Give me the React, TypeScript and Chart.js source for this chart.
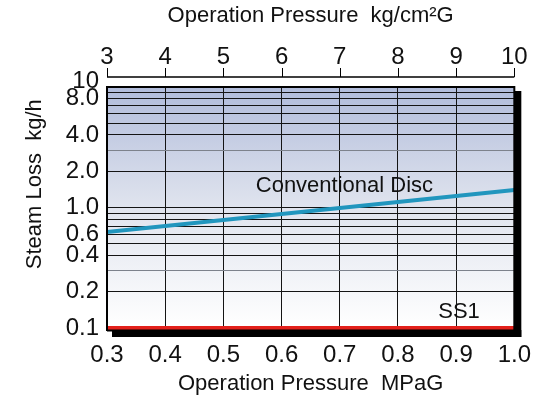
import React, { useEffect, useRef } from 'react';
import { Chart, registerables } from 'chart.js';

Chart.register(...registerables);

// ---- data ----
const pressureMPa = [0.3, 1.0];
const mpaTicks = [0.3, 0.4, 0.5, 0.6, 0.7, 0.8, 0.9, 1.0];
const conventionalDisc = [0.625, 1.4];
const ss1Loss = [0.1, 0.1];
const kgTicks = [3, 4, 5, 6, 7, 8, 9, 10];
const yGridValues = [0.1, 0.2, 0.3, 0.4, 0.5, 0.6, 0.7, 0.8, 0.9, 1, 2, 3, 4, 5, 6, 7, 8, 9, 10];
const yLabelValues = [0.1, 0.2, 0.4, 0.6, 1, 2, 4, 8, 10];
const yLabelTexts = ['0.1', '0.2', '0.4', '0.6', '1.0', '2.0', '4.0', '8.0', '10'];
const seriesNames = ['Conventional Disc', 'SS1'];
const seriesLabelX = [0.708, 0.905];
const seriesLabelY = [1.51, 0.136];

const FONT = "'Liberation Sans', Arial, sans-serif";

export default function App() {
  const ref = useRef<HTMLCanvasElement | null>(null);

  useEffect(() => {
    const canvas = ref.current;
    if (!canvas) return;

    const decor = {
      id: 'decor',
      beforeDraw(chart: any) {
        const { ctx, chartArea: a } = chart;
        const y = chart.scales.y;
        const top = y.getPixelForValue(10);
        const bottom = y.getPixelForValue(0.1);
        ctx.save();
        // shadow
        ctx.fillStyle = '#000';
        ctx.fillRect(a.right, top + 4, 7, bottom - top + 5);
        ctx.fillRect(a.left + 5, bottom + 2, a.right - a.left + 2, 7);
        // gradient background
        const g = ctx.createLinearGradient(0, top, 0, bottom);
        g.addColorStop(0, '#b1bcdb');
        g.addColorStop(0.5, '#e0e4ee');
        g.addColorStop(1, '#ffffff');
        ctx.fillStyle = g;
        ctx.fillRect(a.left, top, a.right - a.left, bottom - top);
        ctx.restore();
      },
      afterDraw(chart: any) {
        const { ctx, chartArea: a } = chart;
        const y = chart.scales.y;
        const x = chart.scales.x;
        const x2 = chart.scales.x2;
        const top = y.getPixelForValue(10);
        const bottom = y.getPixelForValue(0.1);
        ctx.save();
        ctx.strokeStyle = '#000';
        // frame
        ctx.lineWidth = 2;
        ctx.beginPath();
        ctx.moveTo(a.left, bottom + 3);
        ctx.lineTo(a.left, top);
        ctx.lineTo(a.right, top);
        ctx.lineTo(a.right, bottom + 3);
        ctx.stroke();
        ctx.beginPath();
        ctx.moveTo(a.left, bottom + 2.5);
        ctx.lineTo(a.right, bottom + 2.5);
        ctx.stroke();
        // top axis line and ticks
        const axY = top - 10;
        ctx.lineWidth = 1.5;
        ctx.beginPath();
        ctx.moveTo(x2.getPixelForValue(kgTicks[0]), axY);
        ctx.lineTo(x2.getPixelForValue(kgTicks[kgTicks.length - 1]), axY);
        ctx.stroke();
        ctx.lineWidth = 1;
        kgTicks.forEach((k) => {
          const px = Math.round(x2.getPixelForValue(k)) + 0.5;
          ctx.beginPath();
          ctx.moveTo(px, axY);
          ctx.lineTo(px, axY - 9);
          ctx.stroke();
        });
        // series labels
        ctx.fillStyle = '#111';
        ctx.font = `22px ${FONT}`;
        ctx.textAlign = 'center';
        ctx.textBaseline = 'middle';
        seriesNames.forEach((n, i) => {
          ctx.fillText(n, x.getPixelForValue(seriesLabelX[i]), y.getPixelForValue(seriesLabelY[i]));
        });
        ctx.restore();
      },
    };

    const chart = new Chart(canvas, {
      type: 'line',
      data: {
        datasets: [
          {
            label: seriesNames[0],
            data: pressureMPa.map((p, i) => ({ x: p, y: conventionalDisc[i] })),
            borderColor: '#2196be',
            borderWidth: 4,
            pointRadius: 0,
            xAxisID: 'x',
            yAxisID: 'y',
          },
          {
            label: seriesNames[1],
            data: pressureMPa.map((p, i) => ({ x: p, y: ss1Loss[i] })),
            borderColor: '#e3201b',
            borderWidth: 4,
            pointRadius: 0,
            clip: 6,
            xAxisID: 'x',
            yAxisID: 'y',
          },
        ],
      },
      plugins: [decor],
      options: {
        animation: false,
        responsive: false,
        layout: { padding: { left: 0, right: 24, top: 0, bottom: 0 } },
        plugins: { legend: { display: false }, tooltip: { enabled: false } },
        scales: {
          x: {
            type: 'linear',
            position: 'bottom',
            min: 0.3,
            max: 1.0,
            afterFit: (s: any) => { s.height = 69; },
            afterBuildTicks: (s: any) => { s.ticks = mpaTicks.map((v) => ({ value: v })); },
            grid: { color: '#141414', lineWidth: 1, drawTicks: false },
            border: { display: false },
            ticks: {
              autoSkip: false,
              maxRotation: 0,
              padding: 13,
              color: '#111',
              font: { family: FONT, size: 24 },
              callback: (v: any) => Number(v).toFixed(1),
            },
            title: {
              display: true,
              text: 'Operation Pressure  MPaG',
              color: '#111',
              font: { family: FONT, size: 22 },
              padding: { top: 0, bottom: 0 },
            },
          },
          x2: {
            type: 'linear',
            position: 'top',
            min: 3,
            max: 10,
            afterFit: (s: any) => { s.height = 87; },
            afterBuildTicks: (s: any) => { s.ticks = kgTicks.map((v) => ({ value: v })); },
            grid: { display: false, drawTicks: false },
            border: { display: false },
            ticks: {
              autoSkip: false,
              maxRotation: 0,
              padding: 15,
              color: '#111',
              font: { family: FONT, size: 24 },
            },
            title: {
              display: true,
              text: 'Operation Pressure  kg/cm²G',
              color: '#111',
              font: { family: FONT, size: 22 },
              padding: { top: 3, bottom: 0 },
            },
          },
          y: {
            type: 'logarithmic',
            min: 0.1,
            max: 10,
            afterFit: (s: any) => { s.width = 107; },
            afterBuildTicks: (s: any) => { s.ticks = yGridValues.map((v) => ({ value: v })); },
            grid: {
              drawTicks: false,
              lineWidth: 1,
              color: (c: any) => (c.tick && (c.tick.value === 0.3 || c.tick.value === 3) ? '#7d828c' : '#141414'),
            },
            border: { display: false },
            ticks: {
              autoSkip: false,
              padding: 8,
              color: '#111',
              font: (c: any) =>
                c.tick && c.tick.value === 10
                  ? { family: FONT, size: 24, lineHeight: 0.45 }
                  : { family: FONT, size: 24 },
              callback: (v: any) => {
                const i = yLabelValues.indexOf(Number(v));
                if (i < 0) return '';
                return Number(v) === 10 ? [yLabelTexts[i], ''] : yLabelTexts[i];
              },
            },
            title: {
              display: true,
              text: 'Steam Loss  kg/h  ',
              align: 'end',
              color: '#111',
              font: { family: FONT, size: 22 },
              padding: { top: 22, bottom: 0 },
            },
          },
        },
      },
    } as any);

    return () => chart.destroy();
  }, []);

  return (
    <div style={{ position: 'absolute', left: 0, top: 0, width: 544, height: 397 }}>
      <canvas ref={ref} width={544} height={397} style={{ width: 544, height: 397 }} />
    </div>
  );
}
